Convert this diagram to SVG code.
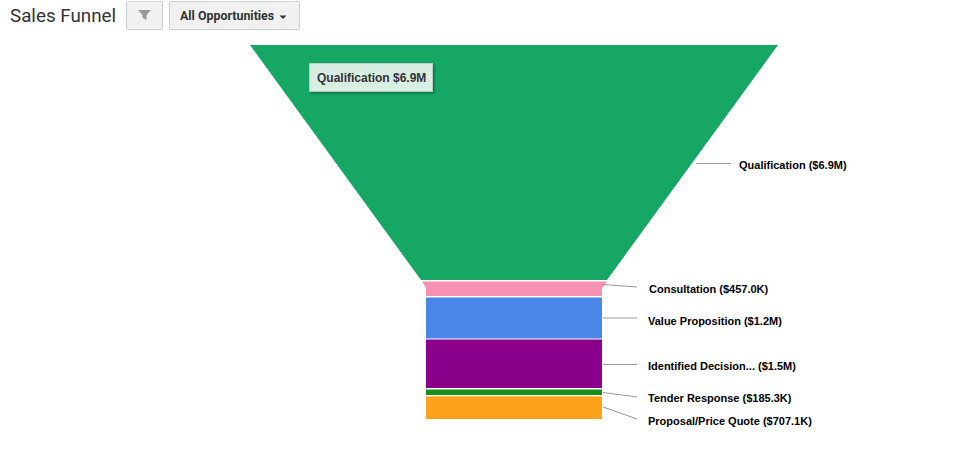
<svg xmlns="http://www.w3.org/2000/svg" width="962" height="476" viewBox="0 0 962 476">
<style>
.lbl{font-family:"Liberation Sans",Arial,sans-serif;font-weight:bold;font-size:11px;fill:#000}
.ln{stroke:#999;stroke-width:1;fill:none}
.btn{fill:#f1f1f1;stroke:#cfcfcf;stroke-width:1}
</style>
<defs>
<filter id="sh" x="-10%" y="-20%" width="130%" height="150%">
<feDropShadow dx="1.5" dy="1.5" stdDeviation="1" flood-color="#000" flood-opacity="0.35"/>
</filter>
</defs>
<rect width="962" height="476" fill="#fff"/>
<g id="header">
<text x="10" y="22" font-family="Roboto,'Liberation Sans',sans-serif" font-size="18.8" fill="#333">Sales Funnel</text>
<rect class="btn" x="126.5" y="1.5" width="36" height="28" rx="1"/>
<path d="M138 10 H151 L146.5 15 V20 L142.5 18 V15 Z" fill="#999"/>
<rect class="btn" x="169.5" y="1.5" width="130" height="28" rx="1"/>
<text x="180" y="20" font-family="Roboto,'Liberation Sans',sans-serif" font-weight="bold" font-size="12.4" fill="#333">All Opportunities</text>
<path d="M279.5 15.5 H286.5 L283 19 Z" fill="#333"/>
</g>
<g id="funnel">
<g id="qualification"><path d="M250 45 H778 L607 280 H421 Z" fill="#16a765"/></g>
<g id="consultation"><path d="M422 281.5 H607 L602 288 V296 H426 V288 Z" fill="#f691b2"/></g>
<g id="value-proposition"><rect x="426" y="297.5" width="176" height="41" fill="#4986e7"/></g>
<g id="identified-decision"><rect x="426" y="339.5" width="176" height="48.5" fill="#8b008b"/></g>
<g id="tender-response"><rect x="426" y="389.5" width="176" height="5.5" fill="#168e1c"/></g>
<g id="proposal"><rect x="426" y="396.3" width="176" height="22.7" fill="#fba11b"/></g>
</g>
<g id="connectors">
<line class="ln" x1="696" y1="163.5" x2="731" y2="163.5"/>
<line class="ln" x1="603" y1="284.5" x2="637" y2="287"/>
<line class="ln" x1="603" y1="318" x2="637" y2="318"/>
<line class="ln" x1="603" y1="364.5" x2="637" y2="364.5"/>
<line class="ln" x1="603" y1="392.5" x2="637" y2="397"/>
<line class="ln" x1="603" y1="407" x2="637" y2="419"/>
</g>
<g id="labels">
<text class="lbl" x="739" y="169">Qualification ($6.9M)</text>
<text class="lbl" x="649" y="293">Consultation ($457.0K)</text>
<text class="lbl" x="648" y="325">Value Proposition ($1.2M)</text>
<text class="lbl" x="648" y="370">Identified Decision... ($1.5M)</text>
<text class="lbl" x="648" y="402">Tender Response ($185.3K)</text>
<text class="lbl" x="648" y="425">Proposal/Price Quote ($707.1K)</text>
</g>
<g id="tooltip">
<rect x="309.5" y="63.5" width="123" height="28" fill="#d9eee3" stroke="#b9cfc3" stroke-width="1" filter="url(#sh)"/>
<text x="317" y="82" font-family="'Liberation Sans',Arial,sans-serif" font-weight="bold" font-size="12" fill="#333">Qualification $6.9M</text>
</g>
</svg>
